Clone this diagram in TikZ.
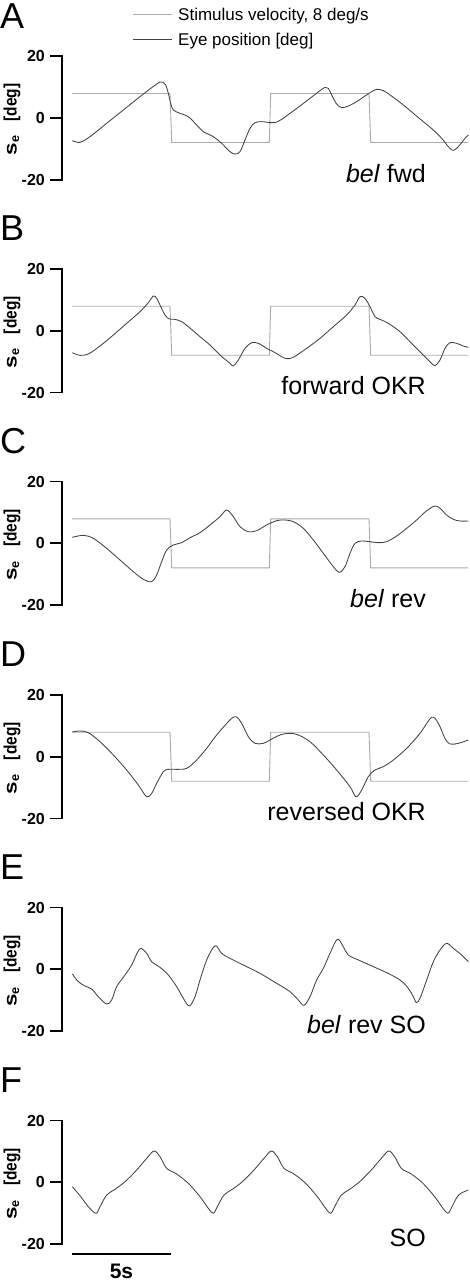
\documentclass[tikz,border=0pt]{standalone}
\usepackage{fontspec}
\setmainfont{Liberation Sans}
\begin{document}
\begin{tikzpicture}[x=1pt,y=-1pt,
  stim/.style={draw=black!33, line width=0.9pt},
  eye/.style={draw=black!74, line width=0.85pt, line join=round},
  axisline/.style={line width=1.7pt},
  ticklbl/.style={anchor=east, inner sep=0pt, font=\fontsize{16}{16}\selectfont\bfseries},
  ylbl/.style={rotate=90, inner sep=0pt, font=\fontsize{18}{18}\selectfont\bfseries},
  letterlbl/.style={anchor=base west, inner sep=0pt, font=\fontsize{36}{36}\selectfont},
  condlbl/.style={anchor=base east, inner sep=0pt, font=\fontsize{25}{25}\selectfont},
  leglbl/.style={anchor=base west, inner sep=0pt, font=\fontsize{17}{17}\selectfont},
  tr/.style={x=0.33333pt, y=-0.33333pt}
]
\useasboundingbox (0,0) rectangle (469,1280);

\newcommand{\mypanel}[4]{%
  \node[letterlbl] (let#4) at (0,#1-90) {#2};
  \draw[axisline] (50,#1-61.8) -- (62,#1-61.8) -- (62,#1+61.8) -- (50,#1+61.8);
  \draw[axisline] (50,#1) -- (62,#1);
  \node[ticklbl] (tp#4) at (45,#1-61.8) {20};
  \node[ticklbl] (tz#4) at (45,#1) {0};
  \node[ticklbl] (tm#4) at (45,#1+61.8) {-20};
  \node[ylbl] (yl#4) at (12,#1+1.5) {\scalebox{1.25}[1]{s}\textsubscript{e}\hspace{14pt}\scalebox{0.86}[1]{[deg]}};
  \node[condlbl] (cl#4) at (426,#1+64) {#3};
}
\newcommand{\mystim}[2]{%
  \draw[stim] (72,#1-24.5) -- (170,#1-24.5) -- (171.7,#1+24.5) -- (269.3,#1+24.5)
     -- (270.7,#1-24.5) -- (369,#1-24.5) -- (370.7,#1+24.5) -- (468,#1+24.5);
}

% legend
\coordinate (lsa) at (133,14); \coordinate (lsb) at (172,14);
\coordinate (lea) at (133,39); \coordinate (leb) at (172,39);
\draw[stim] (lsa) -- (lsb);
\draw[eye] (lea) -- (leb);
\node[leglbl] (leg1) at (178,20) {Stimulus velocity, 8 deg/s};
\node[leglbl] (leg2) at (178,45) {Eye position [deg]};

% Panel A
\mypanel{118}{A}{\textit{bel} fwd}{A}
\mystim{118}{A}
\begin{scope}[tr]
\draw[eye] plot[smooth, tension=0.55] coordinates {
(217,422) (240,427) (270,410) (320,370) (370,330) (420,290) (470,252) (485,246)
(497,255) (505,280) (512,310) (520,330) (540,340) (565,350) (590,375) (610,395)
(640,410) (665,430) (690,455) (705,462) (720,455) (735,420) (750,385) (765,368)
(785,365) (810,368) (825,368) (845,358) (870,340) (900,318) (930,295) (960,272)
(975,262) (985,265) (995,285) (1010,312) (1025,323) (1045,318) (1070,305) (1095,288)
(1115,275) (1130,268) (1150,272) (1180,292) (1210,315) (1240,340) (1270,365) (1300,390)
(1325,415) (1345,440) (1358,451) (1370,445) (1385,428) (1395,415) (1405,405)};
\end{scope}

% Panel B
\mypanel{330.7}{B}{forward OKR}{B}
\mystim{330.7}{B}
\begin{scope}[yshift=-200pt, tr]
\draw[eye] plot[smooth, tension=0.55] coordinates {
(217,458) (240,466) (265,462) (300,438) (340,405) (380,370) (420,335) (445,308)
(460,288) (470,295) (480,315) (495,345) (508,357) (525,358) (545,365) (565,380)
(600,410) (630,435) (660,465) (690,490) (700,498) (715,480) (735,445) (755,428)
(775,430) (800,445) (820,455) (845,470) (860,476) (880,472) (920,445) (960,415)
(1000,380) (1040,345) (1065,315) (1080,290) (1095,295) (1110,320) (1125,350) (1140,358)
(1165,370) (1200,395) (1230,425) (1260,455) (1290,485) (1305,497) (1320,480) (1335,445)
(1350,428) (1370,430) (1390,438) (1405,442)};
\end{scope}

% Panel C
\mypanel{543.3}{C}{\textit{bel} rev}{C}
\mystim{543.3}{C}
\begin{scope}[yshift=-410pt, tr]
\draw[eye] plot[smooth, tension=0.55] coordinates {
(217,382) (250,376) (280,385) (320,415) (360,450) (400,485) (430,508) (455,515)
(470,495) (485,455) (500,420) (520,405) (545,398) (570,383) (600,368) (630,345)
(660,320) (680,300) (700,320) (720,350) (745,365) (770,362) (800,345) (830,332)
(855,330) (880,335) (910,355) (940,390) (970,430) (1000,470) (1018,487) (1035,470)
(1050,430) (1065,400) (1085,393) (1110,395) (1135,398) (1160,395) (1190,378) (1220,355)
(1250,330) (1280,302) (1305,288) (1320,295) (1340,315) (1360,328) (1380,333) (1405,333)};
\end{scope}

% Panel D
\mypanel{756.7}{D}{reversed OKR}{D}
\mystim{756.7}{D}
\begin{scope}[yshift=-620pt, tr]
\draw[eye] plot[smooth, tension=0.55] coordinates {
(217,336) (240,333) (265,338) (300,365) (340,405) (380,450) (415,495) (440,530)
(455,520) (470,490) (490,455) (505,448) (530,448) (560,445) (590,420) (620,385)
(650,345) (690,300) (708,290) (725,310) (745,350) (765,370) (790,370) (810,360)
(840,345) (870,340) (895,345) (930,365) (970,405) (1010,450) (1050,500) (1068,530)
(1085,510) (1105,470) (1125,450) (1150,440) (1180,420) (1220,385) (1260,340) (1295,292)
(1315,310) (1335,355) (1350,372) (1375,370) (1405,360)};
\end{scope}

% Panel E
\mypanel{969.3}{E}{\textit{bel} rev SO}{E}
\begin{scope}[yshift=-840pt, tr]
\draw[eye] plot[smooth, tension=0.55] coordinates {
(217,402) (235,425) (255,438) (275,447) (295,470) (320,492) (335,480) (350,440)
(375,405) (395,375) (412,338) (423,325) (440,340) (455,365) (480,382) (505,405)
(530,440) (550,475) (568,498) (585,470) (600,420) (618,365) (635,330) (648,317)
(665,340) (690,355) (730,375) (780,400) (830,430) (870,455) (895,480) (912,496)
(930,470) (950,420) (970,385) (990,340) (1012,298) (1030,320) (1045,345) (1080,362)
(1120,380) (1160,398) (1200,420) (1225,445) (1240,470) (1250,488) (1262,470) (1280,420)
(1300,365) (1320,330) (1340,310) (1360,325) (1385,345) (1405,365)};
\end{scope}

% Panel F
\mypanel{1182.3}{F}{SO}{F}
\begin{scope}[yshift=-1050pt, tr]
\draw[eye] plot[smooth, tension=0.55] coordinates {
(217,410) (240,437) (265,470) (288,490)
(300,470) (320,435) (345,418) (375,395) (410,360) (440,325) (462,303) (480,320)
(500,355) (530,372) (565,400) (600,440) (625,475) (640,490)
(652,470) (672,435) (697,418) (727,395) (762,360) (792,325) (814,303) (832,320)
(852,355) (882,372) (917,400) (952,440) (977,475) (992,490)
(1004,470) (1024,435) (1049,418) (1079,395) (1114,360) (1144,325) (1166,303) (1184,320)
(1204,355) (1234,372) (1269,400) (1304,440) (1329,475) (1344,490)
(1356,470) (1376,435) (1405,420)};
\end{scope}

% scale bar
\coordinate (sba) at (72,1254); \coordinate (sbb) at (171,1254);
\draw[line width=1.8pt] (sba) -- (sbb);
\node[anchor=base, inner sep=0pt, font=\fontsize{21}{21}\selectfont\bfseries] (sbl) at (121.5,1278) {5s};
\end{tikzpicture}
\end{document}
